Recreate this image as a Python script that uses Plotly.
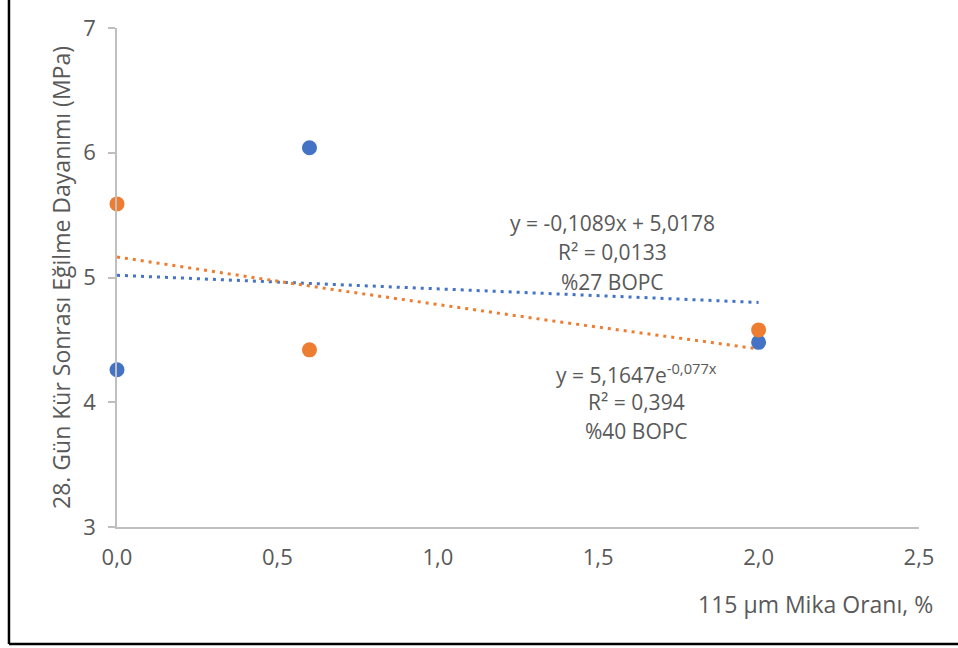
import numpy as np
import plotly.graph_objects as go

# Measured flexural strength after 28 days of curing
mica_ratio = [0.0, 0.6, 2.0]
bopc27 = [4.26, 6.04, 4.48]
bopc40 = [5.59, 4.42, 4.58]

# Trendline coefficients (as printed on the chart)
lin_slope, lin_icpt = -0.1089, 5.0178
exp_a, exp_b = 5.1647, -0.077

x_ticks = [0.0, 0.5, 1.0, 1.5, 2.0, 2.5]
y_ticks = [3, 4, 5, 6, 7]

BLUE = "#4472C4"
ORANGE = "#ED7D31"
TEXT = "#595959"
AXIS = "#BFBFBF"
FONT = "'Open Sans', 'Noto Sans', sans-serif"
FS_TICK = 22
FS_TITLE = 23
FS_LBL = 21

xt = np.linspace(min(mica_ratio), max(mica_ratio), 60)

fig = go.Figure()
fig.add_trace(go.Scatter(
    x=xt, y=lin_slope * xt + lin_icpt, mode="lines",
    line=dict(color=BLUE, width=3, dash="3px,5px"), hoverinfo="skip"))
fig.add_trace(go.Scatter(
    x=xt, y=exp_a * np.exp(exp_b * xt), mode="lines",
    line=dict(color=ORANGE, width=3, dash="3px,5px"), hoverinfo="skip"))
fig.add_trace(go.Scatter(
    x=mica_ratio, y=bopc27, mode="markers", name="%27 BOPC", cliponaxis=False,
    marker=dict(color=BLUE, size=15)))
fig.add_trace(go.Scatter(
    x=mica_ratio, y=bopc40, mode="markers", name="%40 BOPC", cliponaxis=False,
    marker=dict(color=ORANGE, size=15)))

fig.update_layout(
    width=958, height=648,
    margin=dict(l=117, r=39, t=28, b=121),
    paper_bgcolor="white", plot_bgcolor="white",
    showlegend=False,
    separators=",.",
    font=dict(family=FONT, color=TEXT, size=FS_TICK),
)
fig.update_xaxes(
    range=[0, 2.5], tickvals=x_ticks, tickformat=".1f",
    showgrid=False, zeroline=False, showline=True, linecolor=AXIS, linewidth=1.5,
    ticks="", ticklabelstandoff=10, tickfont=dict(size=FS_TICK, color=TEXT))
fig.update_yaxes(
    range=[3, 7], tickvals=y_ticks,
    showgrid=False, zeroline=False, showline=True, linecolor=AXIS, linewidth=1.5,
    ticks="outside", ticklen=7, tickcolor=AXIS, tickwidth=1.5,
    ticklabelstandoff=8, tickfont=dict(size=FS_TICK, color=TEXT),
    title=dict(text="28. Gün Kür Sonrası Eğilme Dayanımı (MPa)",
               font=dict(size=FS_TITLE, color=TEXT), standoff=6))

# x-axis title, right-aligned under the axis
fig.add_annotation(text="115 µm Mika Oranı, %", xref="paper", yref="paper",
                   x=1.02, y=-0.155, xanchor="right", yanchor="middle",
                   showarrow=False, font=dict(size=FS_TITLE, color=TEXT))

# Trendline labels
lbl27 = ["y = -0,1089x + 5,0178", "R² = 0,0133", "%27 BOPC"]
lbl40 = ["y = 5,1647e<sup>-0,077x</sup>", "R² = 0,394", "%40 BOPC"]
for i, t in enumerate(lbl27):
    fig.add_annotation(text=t, x=1.545, y=5.436 - i * 0.235,
                       xanchor="center", yanchor="middle", showarrow=False,
                       font=dict(size=FS_LBL, color=TEXT))
for i, t in enumerate(lbl40):
    fig.add_annotation(text=t, x=1.62, y=4.23 - i * 0.23,
                       xanchor="center", yanchor="middle", showarrow=False,
                       font=dict(size=FS_LBL, color=TEXT))

# Chart frame (left and bottom edges)
fig.add_shape(type="line", xref="paper", yref="paper",
              x0=-0.1347, x1=-0.1347, y0=-0.2345, y1=1.1,
              line=dict(color="black", width=2.5))
fig.add_shape(type="line", xref="paper", yref="paper",
              x0=-0.1347, x1=1.1, y0=-0.2345, y1=-0.2345,
              line=dict(color="black", width=2.5))

fig.write_html("out.html")
